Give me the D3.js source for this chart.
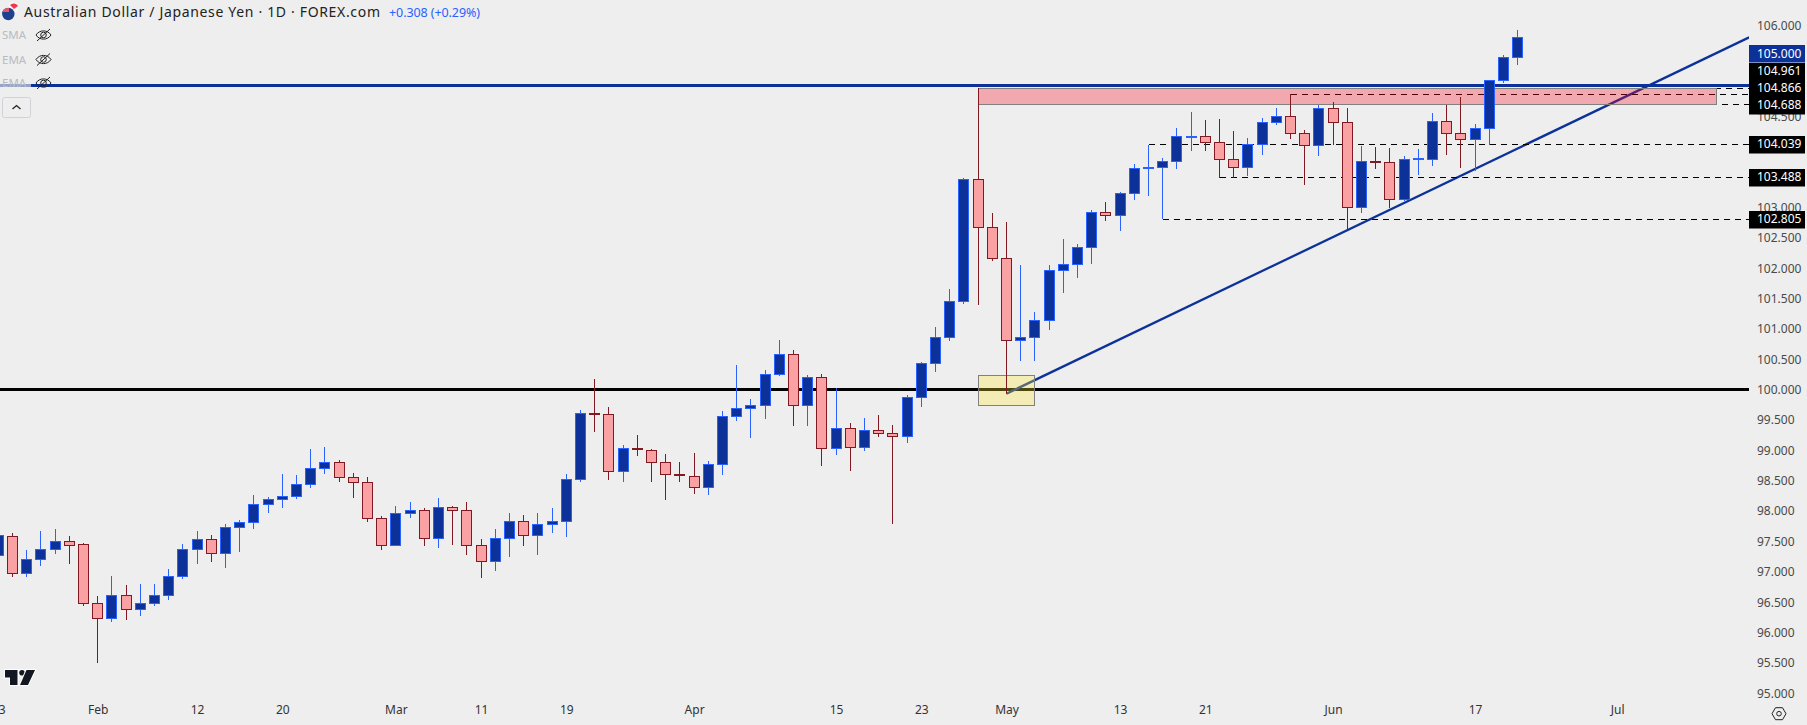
<!DOCTYPE html>
<html><head><meta charset="utf-8">
<script src="https://cdn.jsdelivr.net/npm/d3@7"></script>
<style>
html,body{margin:0;padding:0;background:#eeeeee;overflow:hidden}
svg{display:block}
text{font-family:"Noto Sans",sans-serif}
</style></head><body>
<svg id="c" width="1807" height="725"></svg>
<script>
const firstIndex=-1;
const opens=[97.28,
97.59,96.97,97.20,97.38,97.51,97.45,96.49,96.23,96.62,96.38,
96.49,96.61,96.92,97.38,97.53,97.31,97.73,97.81,98.11,98.19,
98.24,98.45,98.70,98.80,98.55,98.48,97.88,97.43,97.96,98.01,
97.56,98.06,98.01,97.43,97.18,97.55,97.83,97.61,97.79,97.84,
98.53,99.62,99.60,98.65,99.03,99.01,98.81,98.60,98.58,98.40,
98.78,99.57,99.70,99.74,100.26,100.59,99.74,100.20,99.04,99.37,
99.06,99.34,99.29,99.24,99.87,100.43,100.87,101.45,103.46,102.67,
102.16,100.81,100.86,101.14,101.96,102.06,102.35,102.93,102.87,103.23,
103.64,103.67,103.77,104.16,104.18,104.08,103.79,103.67,104.05,104.40,
104.51,104.22,104.02,104.64,104.41,103.00,103.77,103.74,103.13,103.80,
103.80,104.43,104.22,104.12,104.31,105.09,105.48];
const closes=[97.60,
96.97,97.20,97.38,97.51,97.44,96.49,96.23,96.62,96.38,96.49,
96.61,96.92,97.38,97.53,97.31,97.73,97.81,98.11,98.19,98.24,
98.45,98.70,98.80,98.55,98.48,97.88,97.43,97.96,98.01,97.56,
98.06,98.01,97.43,97.18,97.55,97.83,97.61,97.79,97.84,98.53,
99.62,99.60,98.65,99.03,99.02,98.81,98.60,98.59,98.40,98.78,
99.57,99.70,99.74,100.26,100.59,99.74,100.20,99.04,99.37,99.06,
99.34,99.29,99.24,99.87,100.43,100.87,101.45,103.46,102.67,102.16,
100.81,100.86,101.14,101.96,102.06,102.35,102.93,102.87,103.23,103.64,
103.67,103.77,104.17,104.18,104.08,103.79,103.67,104.05,104.40,104.51,
104.22,104.02,104.64,104.41,103.00,103.77,103.74,103.13,103.80,103.81,
104.43,104.22,104.12,104.31,105.09,105.48,105.80];
const highs=[97.70,
97.63,97.35,97.67,97.70,97.58,97.47,96.60,96.93,96.78,96.79,
96.79,97.04,97.45,97.67,97.60,97.78,97.85,98.26,98.23,98.61,
98.59,99.02,99.05,98.84,98.62,98.56,97.91,98.08,98.14,98.05,
98.21,98.08,98.14,97.53,97.70,97.96,97.93,97.96,98.05,98.60,
99.66,100.17,99.71,99.08,99.25,99.02,98.93,98.80,98.95,98.82,
99.64,100.40,99.84,100.32,100.81,100.65,100.24,100.25,100.02,99.44,
99.53,99.58,99.41,99.91,100.45,101.03,101.65,103.48,104.96,102.90,
102.76,102.05,101.27,102.05,102.48,102.39,102.95,103.08,103.26,103.71,
104.03,103.82,104.30,104.57,104.44,104.45,104.25,104.14,104.47,104.63,
104.86,104.27,104.69,104.73,104.63,104.01,103.99,103.97,103.84,103.96,
104.55,104.69,104.81,104.37,105.09,105.51,105.92];
const lows=[97.20,
96.91,96.91,97.09,97.29,97.12,96.43,95.49,96.17,96.20,96.27,
96.43,96.53,96.88,97.12,97.16,97.06,97.32,97.70,97.96,98.05,
98.19,98.37,98.61,98.47,98.21,97.81,97.35,97.43,97.88,97.42,
97.39,97.44,97.28,96.89,97.01,97.24,97.42,97.28,97.64,97.57,
98.48,99.30,98.51,98.48,98.91,98.48,98.18,98.48,98.28,98.26,
98.59,99.48,99.20,99.51,100.22,99.40,99.40,98.74,98.92,98.66,
98.99,99.22,97.79,99.12,99.71,100.29,100.80,101.41,101.39,102.12,
99.92,100.47,100.47,100.98,101.59,101.84,102.07,102.78,102.61,103.12,
103.19,102.80,103.63,103.93,103.93,103.49,103.49,103.52,103.86,104.36,
104.12,103.37,103.85,104.02,102.63,102.91,103.63,102.99,103.10,103.53,
103.68,103.86,103.65,103.60,104.03,105.05,105.35];

const priceTicks=[95,95.5,96,96.5,97,97.5,98,98.5,99,99.5,100,100.5,101,101.5,102,102.5,103,103.5,104,104.5,105,105.5,106];
const dateTickIndex=[-1,6,13,19,27,33,39,48,58,64,70,78,84,93,103,113];
const dateTickLabels=["23","Feb","12","20","Mar","11","19","Apr","15","23","May","13","21","Jun","17","Jul"];

const solidLevels=[{v:100,color:"#000000"},{v:105,color:"#0c3299"}];
const dashedLevels=[{v:104.961,from:68},{v:104.866,from:90},{v:104.688,from:101},{v:104.039,from:80},{v:103.488,from:85},{v:102.805,from:81}];
const trendline=[[70,99.93],[122.3,105.80]];
const zone={x0:68,x1:120,top:104.961,bottom:104.688};
const box={x0:68,x1:72,top:100.23,bottom:99.74};
const priceLabels=[
 {t:"105.000",c:53.7,fill:"#0c3299"},
 {t:"104.961",c:71,fill:"#000"},
 {t:"104.866",c:88,fill:"#000"},
 {t:"104.688",c:105,fill:"#000"},
 {t:"104.039",c:144.3,fill:"#000"},
 {t:"103.488",c:177.3,fill:"#000"},
 {t:"102.805",c:219.3,fill:"#000"}];
const legendRows=[{t:"SMA",y:35},{t:"EMA",y:59.5},{t:"EMA",y:83}];

const W=1807,H=725,plotR=1749;
const svg=d3.select("#c");
const x=d3.scaleLinear().domain([0,106]).range([12.5,12.5+14.2*106]);
const y=d3.scaleLinear().domain([95,106]).range([693.0,25.2]);
const clipId="plot";
const crispY=v=>Math.floor(y(v))+.5;
const crispX=i=>Math.floor(x(i))+.5;
svg.append("defs").append("clipPath").attr("id",clipId).append("rect").attr("width",plotR).attr("height",700);
svg.append("rect").attr("width",W).attr("height",H).attr("fill","#eeeeee");

const plot=svg.append("g").attr("clip-path",`url(#${clipId})`);
plot.selectAll(".lvl").data(solidLevels).join("line")
  .attr("x1",0).attr("x2",plotR).attr("y1",d=>crispY(d.v)).attr("y2",d=>crispY(d.v))
  .attr("stroke",d=>d.color).attr("stroke-width",3).attr("shape-rendering","crispEdges");
plot.append("line").attr("x1",x(trendline[0][0])).attr("y1",y(trendline[0][1]))
  .attr("x2",x(trendline[1][0])).attr("y2",y(trendline[1][1]))
  .attr("stroke","#0c3299").attr("stroke-width",2.3);
plot.selectAll(".dash").data(dashedLevels).join("line")
  .attr("x1",d=>x(d.from)).attr("x2",plotR)
  .attr("y1",d=>crispY(d.v)).attr("y2",d=>crispY(d.v))
  .attr("stroke","#000").attr("stroke-width",1).attr("stroke-dasharray","6 5").attr("shape-rendering","crispEdges");
plot.append("rect").attr("x",crispX(zone.x0)).attr("width",crispX(zone.x1)-crispX(zone.x0))
  .attr("y",crispY(zone.top)).attr("height",crispY(zone.bottom)-crispY(zone.top))
  .attr("fill","rgba(251,8,31,.3)").attr("stroke","#808080").attr("stroke-width",1).attr("shape-rendering","crispEdges");
plot.append("rect").attr("x",crispX(box.x0)).attr("width",crispX(box.x1)-crispX(box.x0))
  .attr("y",crispY(box.top)).attr("height",crispY(box.bottom)-crispY(box.top))
  .attr("fill","rgba(255,235,50,.3)").attr("stroke","#808080").attr("stroke-width",1).attr("shape-rendering","crispEdges");

const candles=opens.map((o,i)=>({i:i+firstIndex,o,c:closes[i],h:highs[i],l:lows[i]}));
const g=plot.selectAll(".candle").data(candles).join("g").attr("shape-rendering","crispEdges");
const px=d=>Math.floor(x(d.i));
g.append("rect").attr("x",px).attr("width",1)
  .attr("y",d=>Math.round(y(d.h))).attr("height",d=>Math.max(1,Math.round(y(d.l))-Math.round(y(d.h))))
  .attr("fill",d=>d.c>=d.o?"#2962ff":"#801922");
g.append("rect").attr("x",d=>px(d)-4.5).attr("width",10)
  .attr("y",d=>Math.round(y(Math.max(d.o,d.c)))+.5)
  .attr("height",d=>Math.max(0,Math.round(y(Math.min(d.o,d.c)))-Math.round(y(Math.max(d.o,d.c)))))
  .attr("fill",d=>d.c>=d.o?"#0c3299":"#faa1a4")
  .attr("stroke",d=>d.c>=d.o?"#2962ff":"#801922").attr("stroke-width",1);

const yAxis=d3.axisRight(y).tickValues(priceTicks).tickFormat(d3.format(".3f")).tickSize(0).tickPadding(0);
const ya=svg.append("g").attr("transform","translate(1757,0)").call(yAxis);
ya.select(".domain").remove();
ya.selectAll("text").attr("font-size",12).attr("fill","#4a4a4a").attr("dy",".34em").attr("font-family",'"Noto Sans",sans-serif');

const xAxis=d3.axisBottom(x).tickValues(dateTickIndex).tickFormat((d,i)=>dateTickLabels[i]).tickSize(0).tickPadding(0);
const xa=svg.append("g").attr("transform","translate(0,707)").call(xAxis);
xa.select(".domain").remove();
xa.selectAll("text").attr("font-size",12).attr("fill","#333").attr("dy",".6em").attr("font-family",'"Noto Sans",sans-serif');

const pl=svg.append("g").selectAll("g").data(priceLabels).join("g");
pl.append("rect").attr("x",plotR).attr("width",56).attr("y",d=>Math.round(d.c-8.5)).attr("height",17.5).attr("fill",d=>d.fill);
pl.append("text").attr("x",1757).attr("y",d=>d.c).attr("dy",".34em").attr("font-size",12).attr("fill","#fff").text(d=>d.t);

svg.append("rect").attr("x",0).attr("y",75).attr("width",31).attr("height",17).attr("fill","rgba(238,238,238,.6)");
svg.append("text").attr("x",24).attr("y",17).attr("font-size",14).attr("fill","#222").attr("textLength",356).attr("lengthAdjust","spacing")
  .text("Australian Dollar / Japanese Yen · 1D · FOREX.com");
svg.append("text").attr("x",389).attr("y",17).attr("font-size",12.5).attr("fill","#2962ff").attr("textLength",91).attr("lengthAdjust","spacing")
  .text("+0.308 (+0.29%)");
svg.append("circle").attr("cx",13.3).attr("cy",7.5).attr("r",5.5).attr("fill","#f7f7f7");
svg.append("path").attr("d","M10 5 A5 5 0 0 1 18 6 L14 9 Z").attr("fill","#f2364f");
svg.append("circle").attr("cx",8.3).attr("cy",14).attr("r",6.2).attr("fill","#1f3f8f");
svg.append("path").attr("d","M2.5 12 L9 12 L9 8 A6 6 0 0 0 2.5 12Z").attr("fill","#e9546b");
const lg=svg.append("g").selectAll("g").data(legendRows).join("g");
lg.append("text").attr("x",2).attr("y",d=>d.y).attr("dy",".35em").attr("font-size",11.5).attr("fill","#b9bbc2").text(d=>d.t);
lg.append("path").attr("transform",d=>`translate(43.5,${d.y})`)
  .attr("d","M-7.5 0 C-4 -5.5 4 -5.5 7.5 0 C4 5.5 -4 5.5 -7.5 0Z M-2.8 0 A2.8 2.8 0 1 0 2.8 0 A2.8 2.8 0 1 0 -2.8 0Z M-6.5 6 L6.5 -6")
  .attr("fill","none").attr("stroke","#222").attr("stroke-width",1);
svg.append("rect").attr("x",2.5).attr("y",97.5).attr("width",28).attr("height",20).attr("rx",2).attr("fill","#eeeeee").attr("stroke","#d0d2d8");
svg.append("path").attr("d","M12.5 109 L16.5 105.5 L20.5 109").attr("fill","none").attr("stroke","#222").attr("stroke-width",1.3);
const logo=svg.append("g").attr("fill","#131722").attr("stroke","#fff").attr("stroke-width",2).attr("paint-order","stroke");
logo.append("path").attr("d","M5 670 H17.5 V685 H10 V677.5 H5Z");
logo.append("circle").attr("cx",22).attr("cy",672.7).attr("r",2.8);
logo.append("path").attr("d","M26.5 670 H35 L28 685 H20Z");
svg.append("path").attr("d","M1772 713.7 L1775.5 707.7 H1782.5 L1786 713.7 L1782.5 719.7 H1775.5Z").attr("fill","none").attr("stroke","#222").attr("stroke-width",1);
svg.append("circle").attr("cx",1779).attr("cy",713.7).attr("r",2.3).attr("fill","none").attr("stroke","#222").attr("stroke-width",1);
</script>
</body></html>
